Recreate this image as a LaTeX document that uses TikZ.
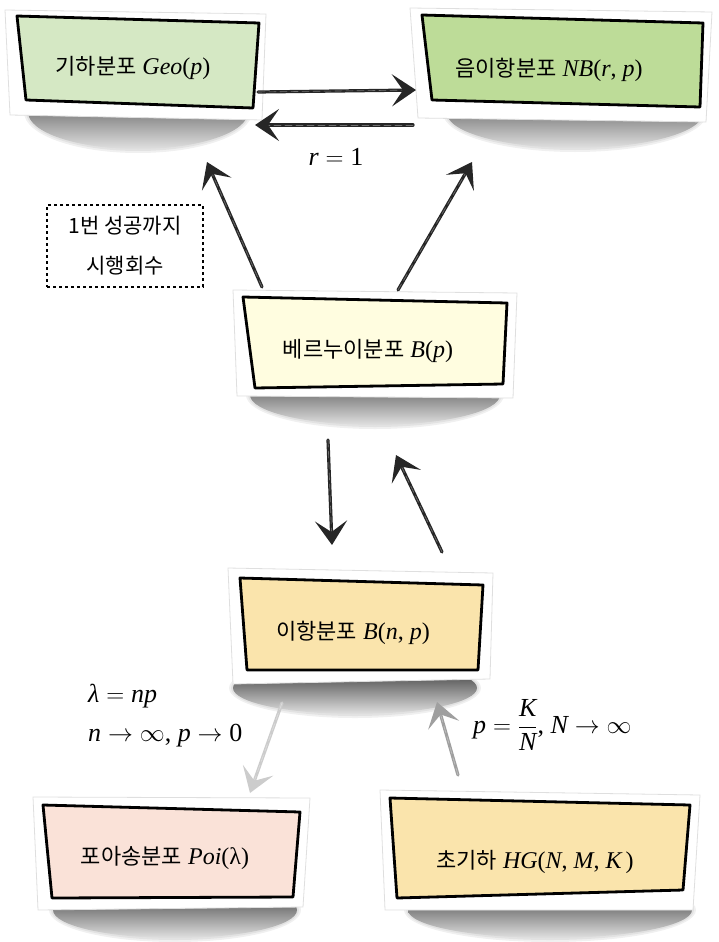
\documentclass[tikz,border=0pt]{standalone}
\usepackage{fontspec}
\setmainfont{Liberation Serif}
\newfontfamily\cjk{Noto Sans CJK KR}
\usetikzlibrary{arrows.meta}
\definecolor{geoC}{RGB}{213,232,196}
\definecolor{nbC}{RGB}{189,220,152}
\definecolor{berC}{RGB}{255,253,224}
\definecolor{binC}{RGB}{250,228,172}
\definecolor{poiC}{RGB}{250,226,216}
\definecolor{hgC}{RGB}{250,228,172}
\newcommand\mi[1]{{\itshape #1}}
\newcommand\kr[1]{{\cjk\fontsize{22}{26}\selectfont #1}}
\newcommand\rel[1]{${}#1{}$}
\tikzset{
  paper/.style={fill=white, draw=gray!25, line width=0.8pt},
  innerbox/.style={draw=black, line width=2.8pt, line join=round},
  shadowel/.style={top color=black!85, middle color=black!66, bottom color=black!12},
  shadowhalo/.style={fill=black, opacity=0.06},
  lbl/.style={font=\fontsize{24}{28}\selectfont, inner sep=0pt},
  mlbl/.style={font=\fontsize{26}{30}\selectfont, inner sep=0pt, anchor=west},
  sk/.style={line width=3.2pt, draw=black!85, line cap=round,
    -{Stealth[length=24pt,width=32pt,inset=11pt]},
    postaction={draw=white, opacity=0.35, line width=0.6pt, dash pattern=on 7pt off 4pt, -{}, shorten >=14pt}},
  skgray/.style={sk, draw=gray!75},
  sklight/.style={sk, draw=gray!40},
  note/.style={draw=black, dashed, line width=1.1pt, minimum width=156pt, minimum height=82pt,
    align=center, font=\cjk\fontsize{21}{40}\selectfont, inner sep=0pt},
}
\begin{document}
\begin{tikzpicture}[x=1pt,y=-1pt]
\useasboundingbox (0,0) rectangle (718,942);
% shadows
\foreach \cx/\cy/\rx/\ry in {138/112/110/37, 575/113/128/35, 375/395/125/30, 355/688/122/26, 175/910/122/28, 550/910/142/28}{
  \fill[shadowhalo] (\cx,\cy) ellipse [x radius=\rx+4, y radius=\ry+4];
  \fill[shadowhalo] (\cx,\cy) ellipse [x radius=\rx+2, y radius=\ry+2];
  \shade[shadowel] (\cx,\cy) ellipse [x radius=\rx, y radius=\ry];
}
% papers
\fill[paper] (5,10) -- (266,14) -- (262,120) -- (10,115) -- cycle;
\fill[paper] (410,8) -- (712,12) -- (706,122) -- (418,118) -- cycle;
\fill[paper] (233,290) -- (517,293) -- (513,398) -- (237,396) -- cycle;
\fill[paper] (228,568) -- (493,573) -- (490,679) -- (233,684) -- cycle;
\fill[paper] (33,797) -- (310,798) -- (303,907) -- (38,910) -- cycle;
\fill[paper] (380,790) -- (700,795) -- (693,910) -- (385,910) -- cycle;
% inner boxes
\filldraw[innerbox, fill=geoC] (17,16) -- (259,23) -- (253,108) -- (26,100) -- cycle;
\filldraw[innerbox, fill=nbC] (422,15) -- (703,23) -- (700,107) -- (432,100) -- cycle;
\filldraw[innerbox, fill=berC] (243,297) -- (507,303) -- (503,384) -- (255,388) -- cycle;
\filldraw[innerbox, fill=binC] (240,578) -- (483,585) -- (478,670) -- (247,670) -- cycle;
\filldraw[innerbox, fill=poiC] (43,805) -- (300,812) -- (293,897) -- (52,898) -- cycle;
\filldraw[innerbox, fill=hgC] (390,798) -- (690,805) -- (683,890) -- (397,898) -- cycle;
% texts
\node[lbl] (geo) at (133,68) {\kr{기하분포} \mi{Geo}(\mi{p})};
\node[lbl] (nb) at (549,70) {\kr{음이항분포} \mi{NB}(\mi{r}, \mi{p})};
\node[lbl] (ber) at (368,351) {\kr{베르누이분포} \mi{B}(\mi{p})};
\node[lbl] (bin) at (353,633) {\kr{이항분포} \mi{B}(\mi{n}, \mi{p})};
\node[lbl] (poi) at (165,858) {\kr{포아송분포} \mi{Poi}(λ)};
\node[lbl] (hg) at (535,862) {\kr{초기하} \mi{HG}(\mi{N}, \mi{M}, \mi{K}\,)};
\node[note] (nt) at (125,246) {1번 성공까지\\시행회수};
% labels
\node[mlbl, anchor=center] (r1) at (336,157) {\mi{r}\rel{=}1};
\node[mlbl] (lam) at (88,696) {\mi{λ}\rel{=}\mi{np}};
\node[mlbl] (lim) at (88,736) {\mi{n}\rel{\to}$\infty$, \mi{p}\rel{\to}0};
\node[mlbl] (hgl) at (473,725) {\mi{p}\rel{=}$\displaystyle\frac{\mbox{\mi{K}}}{\mbox{\mi{N}}}$, \mi{N}\rel{\to}$\infty$};
% connector end points
\coordinate (geoE) at (258,92);
\coordinate (nbW) at (416,90);
\coordinate (nbWb) at (413,125);
\coordinate (geoEb) at (255,125);
\coordinate (berNW) at (262,287);
\coordinate (geoS) at (207,162);
\coordinate (berNE) at (398,290);
\coordinate (nbS) at (472,162);
\coordinate (berS) at (328,440);
\coordinate (binN) at (332,545);
\coordinate (binNE) at (442,552);
\coordinate (berSE) at (396,455);
\coordinate (binS) at (282,703);
\coordinate (poiN) at (250,793);
\coordinate (hgN) at (458,775);
\coordinate (binSE) at (437,702);
% connectors
\draw[sk] (geoE) -- (nbW);
\draw[sk] (nbWb) -- (geoEb);
\draw[sk] (berNW) -- (geoS);
\draw[sk] (berNE) -- (nbS);
\draw[sk] (berS) -- (binN);
\draw[sk] (binNE) -- (berSE);
\draw[sklight] (binS) -- (poiN);
\draw[skgray] (hgN) -- (binSE);
\end{tikzpicture}
\end{document}
